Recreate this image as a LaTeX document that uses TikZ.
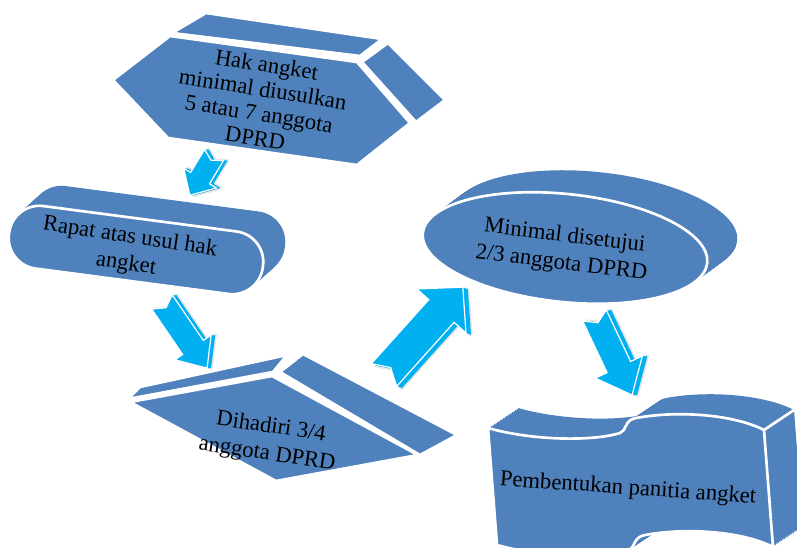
\documentclass[tikz,border=0pt]{standalone}
\usepackage{fontspec}
\setmainfont{Liberation Serif}
\definecolor{shapeblue}{HTML}{4F81BD}
\definecolor{arrowcyan}{HTML}{00B0F0}
\tikzset{
  face/.style={fill=shapeblue, draw=white, line width=2pt, line join=round},
  txt/.style={align=center, text=black, inner sep=0pt, font=\fontsize{17}{20.5}\selectfont},
  arrowface/.style={fill=arrowcyan, draw=white, line width=0.9pt, line join=miter},
  arrowglow/.style={draw=black!10, line width=2.5pt, line join=round},
  wavep/.style={insert path={(488,428) .. controls (530,440) and (590,442) .. (620,433)
      .. controls (627,431) and (624,420) .. (636,418)
      .. controls (680,410) and (735,415) .. (764,430) -- (773,547)
      .. controls (744,532) and (689,527) .. (645,535)
      .. controls (633,537) and (635,548) .. (629,550)
      .. controls (599,559) and (539,557) .. (497,545) -- cycle}},
}
% #1 tail point, #2 angle, #3 length, #4 shaft half width, #5 head half width,
% #6 head length, #7 notch depth, #8 #9 side offset
\newcommand\blkarrow[9]{%
  \draw[arrowglow, shift={(#8,#9)}, shift={(#1)}, rotate=#2]
    (0,#4) -- ({#3-#6},#4) -- ({#3-#6},#5) -- (#3,0) -- ({#3-#6},-#5) -- ({#3-#6},-#4) -- (0,-#4) -- (#7,0) -- cycle;
  \foreach \s in {1,0.8,0.6,0.4,0.2}{%
    \fill[arrowcyan, shift={(\s*#8,\s*(#9))}, shift={(#1)}, rotate=#2]
      (0,#4) -- ({#3-#6},#4) -- ({#3-#6},#5) -- (#3,0) -- ({#3-#6},-#5) -- ({#3-#6},-#4) -- (0,-#4) -- (#7,0) -- cycle;}
  \draw[arrowface, shift={(#1)}, rotate=#2]
    (0,#4) -- ({#3-#6},#4) -- ({#3-#6},#5) -- (#3,0) -- ({#3-#6},-#5) -- ({#3-#6},-#4) -- (0,-#4) -- (#7,0) -- cycle;
}
\begin{document}
\begin{tikzpicture}[x=0.75pt,y=-0.75pt]
\useasboundingbox (0,0) rectangle (797,547);
\clip (0,0) rectangle (797,547);

% ---- Hexagon (top)
\path[face] (172,33) -- (206,13) -- (382,39) -- (360,56) -- cycle;
\path[face] (362,62) -- (388,43) -- (445,100) -- (416,122) -- cycle;
\path[face] (113,80) -- (170,36) -- (357,62) -- (410,123) -- (357,165) -- (168,138) -- cycle;
\node[txt, font=\fontsize{17}{18.5}\selectfont, rotate=-9] (hak) at (261,101)
  {Hak angket\\minimal diusulkan\\5 atau 7 anggota\\DPRD};

% ---- Stadium (left)
\foreach \i in {1,...,20}
  \fill[shapeblue, shift={(1.1*\i,-1*\i)}, rotate around={-7.5:(136,250)}, rounded corners=23pt]
    (8,218.5) rectangle (264,281.5);
\draw[face, rotate around={-7.5:(136,250)}, rounded corners=23pt]
    (8,218.5) rectangle (264,281.5);
\node[txt, rotate=-8.5] (rapat) at (128,251) {Rapat atas usul hak\\angket};

% ---- Parallelogram (bottom middle)
\path[face] (140,387) -- (287,355) -- (273,372) -- (128,399) -- cycle;
\path[face] (280,372) -- (303,354) -- (457,435) -- (420,455) -- cycle;
\path[face] (130,402) -- (272,376) -- (418,455) -- (276,481) -- cycle;
\node[txt, rotate=-8.5] (hadir) at (269,441) {Dihadiri 3/4\\anggota DPRD};

% ---- Ellipse (right top)
\foreach \i in {1,...,20}
  \fill[shapeblue, shift={(1.5*\i,-1.1*\i)}, rotate around={-6:(565,248)}]
    (565,248) ellipse [x radius=143, y radius=54];
\draw[face, rotate around={-6:(565,248)}]
    (565,248) ellipse [x radius=143, y radius=54];
\node[txt, rotate=-7] (setuju) at (563,250) {Minimal disetujui\\2/3 anggota DPRD};

% ---- Wave shape (bottom right)
\foreach \i in {1,...,20}
  \fill[shapeblue, shift={(1.5*\i,-1*\i)}, wavep];
\draw[face, wavep];
\draw[white, line width=2pt] (764,430) -- (794,410);
\node[txt, rotate=-4] (panitia) at (628,489) {Pembentukan panitia angket};

% ---- Arrows
\blkarrow{214,155}{-121}{47}{11}{19}{20}{6}{4}{0}
\blkarrow{162,302}{-55.7}{80}{12.5}{22}{25}{7}{4}{0}
\blkarrow{384,375}{48.1}{118}{17}{33}{32}{10}{5}{2}
\blkarrow{594.5,315.5}{-64.7}{88}{13}{26}{31}{8}{5}{0}
\end{tikzpicture}
\end{document}
